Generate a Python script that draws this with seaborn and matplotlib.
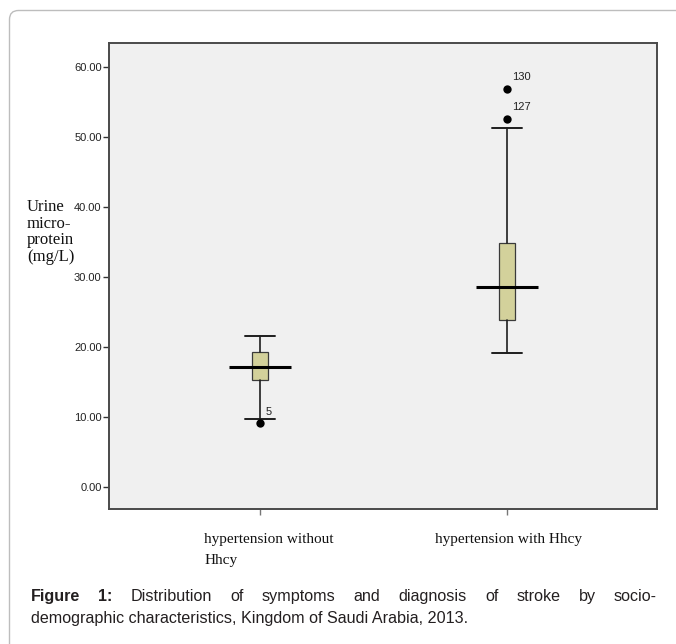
import numpy as np
import pandas as pd
import matplotlib
matplotlib.use("Agg")
import matplotlib.pyplot as plt
import seaborn as sns
from matplotlib.patches import FancyBboxPatch
from matplotlib.transforms import IdentityTransform

# ---------------- data ----------------
categories = ["hypertension without\nHhcy", "hypertension with Hhcy"]
q1 = [15.2, 23.8]
median = [17.05, 28.5]
q3 = [19.3, 34.85]
whisker_low = [9.65, 19.05]
whisker_high = [21.55, 51.3]
flier_values = [[9.05], [56.8, 52.5]]
flier_labels = [["5"], ["130", "127"]]
y_ticks = [0, 10, 20, 30, 40, 50, 60]
y_label = "Urine\nmicro-\nprotein\n(mg/L)"
caption_line1 = [("Figure", True), ("1:", True), ("Distribution", False), ("of", False),
                 ("symptoms", False), ("and", False), ("diagnosis", False), ("of", False),
                 ("stroke", False), ("by", False), ("socio-", False)]
caption_line2 = "demographic characteristics, Kingdom of Saudi Arabia, 2013."

# ---------------- style ----------------
sns.set_theme(style="white")
plt.rcParams['font.family'] = ['Liberation Sans', 'DejaVu Sans']

W, H = 676, 644
fig = plt.figure(figsize=(W / 100, H / 100), dpi=100)
fig.patch.set_facecolor('white')


def rect(x0, y0, x1, y1):
    return [x0 / W, 1 - y1 / H, (x1 - x0) / W, (y1 - y0) / H]


ax = fig.add_axes(rect(108.7, 43, 657, 509))
ax.set_facecolor('#f0f0f0')
for s in ax.spines.values():
    s.set_color('#4a4a4a')
    s.set_linewidth(1.4)

positions = list(range(len(categories)))
stats = [dict(med=median[i], q1=q1[i], q3=q3[i], whislo=whisker_low[i],
              whishi=whisker_high[i], fliers=[], label=categories[i])
         for i in positions]
ax.bxp(stats, positions=positions, widths=0.065, capwidths=0.12, patch_artist=True,
       showfliers=False,
       boxprops=dict(facecolor='#d3d19b', edgecolor='#3a3a3a', linewidth=0.9),
       whiskerprops=dict(color='#1e1e1e', linewidth=1.2),
       capprops=dict(color='#1e1e1e', linewidth=1.4),
       medianprops=dict(linewidth=0))
ax.hlines(median, [p - 0.125 for p in positions], [p + 0.125 for p in positions],
          colors='black', linewidth=2.2, zorder=4)

fl_df = pd.DataFrame({
    "pos": [p for p, v in zip(positions, flier_values) for _ in v],
    "val": [x for v in flier_values for x in v],
    "lab": [x for v in flier_labels for x in v],
})
sns.scatterplot(data=fl_df, x="pos", y="val", ax=ax, color='black', s=36,
                edgecolor='black', linewidth=0, zorder=5, legend=False)
for _, r in fl_df.iterrows():
    ax.annotate(r["lab"], (r["pos"], r["val"]), xytext=(3.6, 8.5),
                textcoords='offset points', fontsize=8, ha='left', va='center',
                color='#222222')

ax.set_xlim(-0.613, 1.607)
ax.set_ylim(-3.19, 63.39)
ax.set_yticks(y_ticks)
ax.set_yticklabels([f"{v:.2f}" for v in y_ticks])
ax.tick_params(axis='y', left=True, length=4.5, width=1, color='#333333', pad=0.6,
               labelsize=8, labelcolor='#222222')
ax.set_xticks(positions)
ax.set_xticklabels([])
ax.tick_params(axis='x', bottom=True, length=4, width=1, color='#777777')
ax.set_xlabel("")
ax.set_ylabel("")

label_dx = [9, 1]
for p, lab, dx in zip(positions, categories, label_dx):
    ax.annotate(lab, (p, 0), xycoords=ax.get_xaxis_transform(),
                xytext=(dx * 0.72, -17), textcoords='offset points',
                ha='center', va='top', multialignment='left',
                fontfamily='Liberation Serif', fontsize=11, linespacing=1.85,
                color='#111111')

fig.text(27 / W, 1 - 199 / H, y_label, ha='left', va='top',
         fontfamily='Liberation Serif', fontsize=12, linespacing=1.05, color='#111111')

# ---------------- caption ----------------
cap_family = ['Liberation Sans', 'DejaVu Sans']
renderer = fig.canvas.get_renderer()
left_px, right_px = 31, 657
probe = fig.text(0, 0, caption_line2, fontsize=10, fontfamily=cap_family)
w10 = probe.get_window_extent(renderer).width
probe.remove()
cap_size = 10 * (468 - left_px) / w10

base1 = 1 - 601 / H
texts = [fig.text(0, base1, w, fontweight='bold' if b else 'normal', fontfamily=cap_family,
                  fontsize=cap_size, va='baseline', ha='left', color='#231f20')
         for w, b in caption_line1]
widths = [t.get_window_extent(renderer).width for t in texts]
gap = (right_px - left_px - sum(widths)) / (len(texts) - 1)
x = left_px
for t, w in zip(texts, widths):
    t.set_x(x / W)
    x += w + gap
fig.text(left_px / W, 1 - 623 / H, caption_line2, fontsize=cap_size, fontfamily=cap_family,
         va='baseline', ha='left', color='#231f20')

border = FancyBboxPatch((9.5, -40), 760, H - 10.5 + 40,
                        boxstyle="round,pad=0,rounding_size=9",
                        transform=IdentityTransform(), facecolor='none',
                        edgecolor='#bdbdbd', linewidth=1.0)
fig.add_artist(border)

fig.savefig('out.png', dpi=100)
